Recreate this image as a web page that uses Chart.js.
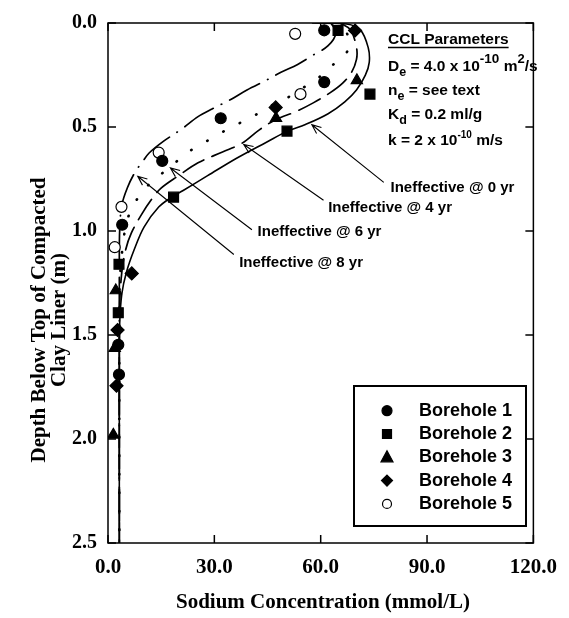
<!DOCTYPE html>
<html>
<head>
<meta charset="utf-8">
<script src="https://cdn.jsdelivr.net/npm/chart.js@4.4.1/dist/chart.umd.min.js"></script>
<style>
  html, body { margin: 0; padding: 0; background: #fff; }
  canvas { display: block; }
</style>
</head>
<body>
<canvas id="myChart" width="569" height="618"></canvas>
<script>
// axis ticks
const concTicks = [0, 30, 60, 90, 120];
const depthTicks = [0, 0.5, 1.0, 1.5, 2.0, 2.5];

// borehole samples: sodium (mmol/L) and depth (m)
const bh1Conc  = [61.0, 61.0, 31.8, 15.3, 4.0, 2.9, 3.1];
const bh1Depth = [0.035, 0.284, 0.458, 0.663, 0.970, 1.547, 1.690];
const bh2Conc  = [64.9, 73.9, 50.5, 18.5, 3.1, 2.9];
const bh2Depth = [0.036, 0.342, 0.520, 0.837, 1.160, 1.393];
const bh3Conc  = [70.2, 47.4, 2.2, 1.9, 1.5];
const bh3Depth = [0.276, 0.458, 1.286, 1.563, 1.980];
const bh4Conc  = [69.7, 47.3, 6.7, 2.7, 2.4];
const bh4Depth = [0.036, 0.406, 1.204, 1.476, 1.744];
const bh5Conc  = [52.8, 54.3, 14.3, 3.8, 1.9];
const bh5Depth = [0.052, 0.342, 0.623, 0.884, 1.078];

// model profiles, liner ineffective after 0/4/6/8 years
const yr0Conc  = [57.7, 67.3, 71.2, 73.4, 73.7, 72.6, 70.1, 66.8, 62.1, 55.7, 50.5, 44.7, 36.4, 28.1, 21.2, 17.9, 14.3, 10.2, 7.4, 5.2, 3.9, 3.3, 3.2, 3.2];
const yr0Depth = [0, 0.005, 0.033, 0.118, 0.189, 0.251, 0.322, 0.379, 0.436, 0.488, 0.521, 0.573, 0.649, 0.734, 0.805, 0.838, 0.885, 0.980, 1.089, 1.198, 1.302, 1.444, 1.634, 2.5];
const yr4Conc  = [65.4, 68.4, 70.1, 70.1, 68.7, 66.2, 62.6, 57.9, 53.0, 47.4, 42.5, 37.8, 32.3, 25.4, 19.9, 14.9, 12.1, 9.7, 6.6, 5.0, 3.9, 3.3, 3.2, 3.2];
const yr4Depth = [0, 0.033, 0.118, 0.175, 0.237, 0.289, 0.336, 0.384, 0.426, 0.464, 0.516, 0.578, 0.620, 0.672, 0.734, 0.795, 0.852, 0.914, 1.009, 1.089, 1.198, 1.349, 1.539, 2.5];
const yr6Conc  = [63.4, 66.8, 68.1, 67.3, 64.8, 59.9, 54.9, 50.5, 45.5, 40.8, 35.9, 31.2, 26.5, 21.8, 17.7, 12.1, 8.0, 5.8, 4.7, 3.9, 3.3, 3.2, 3.2];
const yr6Depth = [0, 0.033, 0.099, 0.142, 0.180, 0.256, 0.313, 0.360, 0.402, 0.450, 0.492, 0.535, 0.582, 0.630, 0.691, 0.767, 0.852, 0.928, 1.004, 1.113, 1.255, 1.444, 2.5];
const yr8Conc  = [62.9, 64.3, 62.1, 57.7, 53.5, 48.8, 44.7, 39.2, 34.5, 29.5, 25.4, 20.7, 15.7, 11.6, 9.7, 7.7, 5.5, 3.9, 3.3, 3.2, 3.2];
const yr8Depth = [0, 0.047, 0.109, 0.156, 0.199, 0.237, 0.275, 0.322, 0.369, 0.412, 0.450, 0.511, 0.568, 0.625, 0.668, 0.715, 0.791, 0.876, 0.994, 1.160, 2.5];

// arrow callouts: label, tip and tail in data units, label anchor
const calloutText = ['Ineffective @ 0 yr', 'Ineffective @ 4 yr', 'Ineffective @ 6 yr', 'Ineffective @ 8 yr'];
const calloutTip  = [[57.5, 0.489], [38.3, 0.584], [17.6, 0.697], [8.4, 0.737]];
const calloutTail = [[77.8, 0.766], [60.8, 0.852], [40.6, 0.994], [35.5, 1.113]];
const calloutAt   = [[79.7, 0.793], [62.1, 0.890], [42.2, 1.002], [37.0, 1.152]];

const boreholes = ['Borehole 1', 'Borehole 2', 'Borehole 3', 'Borehole 4', 'Borehole 5'];

const ink = '#000';
const sans = '"Liberation Sans", Arial, Helvetica, sans-serif';
const serif = '"Liberation Serif", "Times New Roman", serif';

function pts(xs, ys) {
  return xs.map((v, i) => ({ x: v, y: ys[i] }));
}

function samples(label, xs, ys, style, r, fill) {
  return {
    label: label, data: pts(xs, ys), showLine: false,
    pointStyle: style, pointRadius: r, pointHoverRadius: r,
    pointBackgroundColor: fill, pointBorderColor: ink, pointBorderWidth: 1.2
  };
}

function profile(label, xs, ys, dash, width) {
  return {
    label: label, data: pts(xs, ys), showLine: true, pointRadius: 0,
    borderColor: ink, borderWidth: width, borderDash: dash, tension: 0.35,
    borderCapStyle: 'round', fill: false
  };
}

function marker(ctx, kind, x, y, r) {
  ctx.beginPath();
  if (kind === 'circle' || kind === 'open') ctx.arc(x, y, r, 0, Math.PI * 2);
  else if (kind === 'rect') ctx.rect(x - r, y - r, 2 * r, 2 * r);
  else if (kind === 'triangle') {
    ctx.moveTo(x, y - r * 1.1); ctx.lineTo(x + r, y + r * 0.75); ctx.lineTo(x - r, y + r * 0.75); ctx.closePath();
  } else {
    ctx.moveTo(x, y - r); ctx.lineTo(x + r, y); ctx.lineTo(x, y + r); ctx.lineTo(x - r, y); ctx.closePath();
  }
  ctx.fillStyle = kind === 'open' ? '#fff' : ink;
  ctx.fill();
  ctx.lineWidth = 1.2;
  ctx.strokeStyle = ink;
  ctx.stroke();
}

// text with sub/superscripts: [text, size, baseline shift]
function rich(ctx, x, y, parts) {
  parts.forEach(p => {
    ctx.font = 'bold ' + p[1] + 'px ' + sans;
    ctx.fillText(p[0], x, y + p[2]);
    x += ctx.measureText(p[0]).width;
  });
  return x;
}

const decor = {
  id: 'decor',
  afterDraw(chart) {
    const ctx = chart.ctx;
    const a = chart.chartArea;
    const xs = chart.scales.x, ys = chart.scales.y;
    ctx.save();

    // frame with inward ticks on all four sides
    ctx.strokeStyle = ink;
    ctx.lineWidth = 1.5;
    ctx.strokeRect(a.left, a.top, a.right - a.left, a.bottom - a.top);
    ctx.beginPath();
    concTicks.forEach(v => {
      const px = xs.getPixelForValue(v);
      ctx.moveTo(px, a.bottom); ctx.lineTo(px, a.bottom - 8);
      ctx.moveTo(px, a.top); ctx.lineTo(px, a.top + 8);
    });
    depthTicks.forEach(v => {
      const py = ys.getPixelForValue(v);
      ctx.moveTo(a.left, py); ctx.lineTo(a.left + 8, py);
      ctx.moveTo(a.right, py); ctx.lineTo(a.right - 8, py);
    });
    ctx.stroke();

    // callout arrows
    ctx.lineWidth = 1.1;
    ctx.fillStyle = ink;
    ctx.textBaseline = 'middle';
    ctx.font = 'bold 15px ' + sans;
    calloutText.forEach((t, i) => {
      const tx = xs.getPixelForValue(calloutTip[i][0]), ty = ys.getPixelForValue(calloutTip[i][1]);
      const sx = xs.getPixelForValue(calloutTail[i][0]), sy = ys.getPixelForValue(calloutTail[i][1]);
      const ang = Math.atan2(sy - ty, sx - tx);
      ctx.beginPath();
      ctx.moveTo(sx, sy); ctx.lineTo(tx, ty);
      ctx.moveTo(tx + 10 * Math.cos(ang - 0.4), ty + 10 * Math.sin(ang - 0.4));
      ctx.lineTo(tx, ty);
      ctx.lineTo(tx + 10 * Math.cos(ang + 0.4), ty + 10 * Math.sin(ang + 0.4));
      ctx.stroke();
      ctx.fillText(t, xs.getPixelForValue(calloutAt[i][0]), ys.getPixelForValue(calloutAt[i][1]));
    });

    // liner parameters block
    ctx.textBaseline = 'alphabetic';
    const px0 = 388;
    ctx.font = 'bold 15.5px ' + sans;
    ctx.fillText('CCL Parameters', px0, 44);
    const uw = ctx.measureText('CCL Parameters').width;
    ctx.lineWidth = 1.5;
    ctx.beginPath(); ctx.moveTo(px0, 47.5); ctx.lineTo(px0 + uw, 47.5); ctx.stroke();
    rich(ctx, px0, 71, [['D', 15.5, 0], ['e', 12.5, 5], [' = 4.0 x 10', 15.5, 0], ['-10', 13.5, -8], [' m', 15.5, 0], ['2', 13, -8], ['/s', 15.5, 0]]);
    rich(ctx, px0, 95, [['n', 15.5, 0], ['e', 12.5, 5], [' = see text', 15.5, 0]]);
    rich(ctx, px0, 119, [['K', 15.5, 0], ['d', 12.5, 5], [' = 0.2 ml/g', 15.5, 0]]);
    rich(ctx, px0, 145, [['k = 2 x 10', 15.5, 0], ['-10', 10, -7], [' m/s', 15.5, 0]]);

    // legend
    ctx.lineWidth = 2;
    ctx.strokeRect(354, 386, 172, 140);
    const kinds = ['circle', 'rect', 'triangle', 'diamond', 'open'];
    const sizes = [5, 4.5, 6, 5.5, 4.5];
    boreholes.forEach((b, i) => {
      const cy = 410.7 + i * 23.3;
      marker(ctx, kinds[i], 387, cy, sizes[i]);
      ctx.fillStyle = ink;
      ctx.textBaseline = 'middle';
      ctx.font = 'bold 18px ' + sans;
      ctx.fillText(b, 419, cy);
    });

    // axis titles
    ctx.font = 'bold 21px ' + serif;
    ctx.textAlign = 'center';
    ctx.fillText('Sodium Concentration (mmol/L)', 323, 603);
    ctx.translate(50, 320);
    ctx.rotate(-Math.PI / 2);
    ctx.fillText('Depth Below Top of Compacted', 0, -10);
    ctx.fillText('Clay Liner (m)', 0, 10);
    ctx.restore();
  }
};

new Chart('myChart', {
  type: 'scatter',
  data: {
    datasets: [
      samples('Borehole 1', bh1Conc, bh1Depth, 'circle', 5.5, ink),
      samples('Borehole 2', bh2Conc, bh2Depth, 'rect', 7, ink),
      samples('Borehole 3', bh3Conc, bh3Depth, 'triangle', 6.5, ink),
      samples('Borehole 4', bh4Conc, bh4Depth, 'rectRot', 6.5, ink),
      samples('Borehole 5', bh5Conc, bh5Depth, 'circle', 5.5, '#fff'),
      profile('Ineffective @ 0 yr', yr0Conc, yr0Depth, [], 1.6),
      profile('Ineffective @ 4 yr', yr4Conc, yr4Depth, [24, 9], 1.7),
      profile('Ineffective @ 6 yr', yr6Conc, yr6Depth, [0.5, 18], 2.6),
      profile('Ineffective @ 8 yr', yr8Conc, yr8Depth, [34, 9, 0.5, 9], 1.7)
    ]
  },
  options: {
    responsive: false,
    animation: false,
    layout: { padding: { left: 0, top: 15, right: 26, bottom: 0 } },
    plugins: { legend: { display: false }, tooltip: { enabled: false } },
    scales: {
      x: {
        type: 'linear', min: 0, max: 120,
        afterBuildTicks: s => { s.ticks = concTicks.map(v => ({ value: v })); },
        afterFit: s => { s.height = 75; },
        grid: { display: false, drawTicks: false },
        border: { display: false },
        ticks: { padding: 12, color: ink, maxRotation: 0,
          font: { family: serif, size: 21, weight: 'bold' },
          callback: v => v.toFixed(1) }
      },
      y: {
        type: 'linear', min: 0, max: 2.5, reverse: true,
        afterBuildTicks: s => { s.ticks = depthTicks.map(v => ({ value: v })); },
        afterFit: s => { s.width = 108; },
        grid: { display: false, drawTicks: false },
        border: { display: false },
        ticks: { padding: 11, color: ink,
          font: { family: serif, size: 20, weight: 'bold' },
          callback: v => v.toFixed(1) }
      }
    }
  },
  plugins: [decor]
});
</script>
</body>
</html>
